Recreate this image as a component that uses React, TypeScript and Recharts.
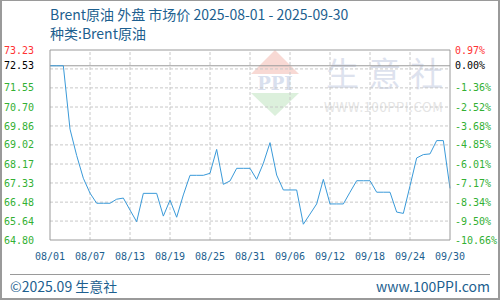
import { LineChart, Line, XAxis, YAxis, ReferenceLine } from "recharts";

// Brent crude, daily market price (USD/bbl), 08/01 .. 09/30
const prices = [
  72.53, 72.53, 72.53, 69.72, 68.55, 67.54, 66.88, 66.43, 66.43, 66.43,
  66.61, 66.66, 66.13, 65.61, 66.87, 66.87, 66.87, 65.86, 66.57, 65.81,
  66.8, 67.67, 67.67, 67.67, 67.76, 68.82, 67.27, 67.42, 67.98, 67.98,
  67.98, 67.49, 68.2, 69.12, 67.68, 67.02, 67.02, 67.02, 65.5, 65.95,
  66.4, 67.49, 66.4, 66.4, 66.4, 66.92, 67.43, 67.43, 67.43, 66.92,
  66.92, 66.92, 66.04, 65.98, 67.2, 68.44, 68.59, 68.62, 69.21, 69.21,
  67.09,
];

const tickDays = [0, 6, 12, 18, 24, 30, 36, 42, 48, 54, 60];
const dateLabels = ["08/01", "08/07", "08/13", "08/19", "08/25", "08/31", "09/06", "09/12", "09/18", "09/24", "09/30"];

const priceTicks = [73.23, 72.53, 71.55, 70.7, 69.86, 69.02, 68.17, 67.33, 66.48, 65.64, 64.8];
const pctLabels = ["0.97%", "0.00%", "-1.36%", "-2.52%", "-3.68%", "-4.85%", "-6.01%", "-7.17%", "-8.34%", "-9.50%", "-10.66%"];
const gridPrices = [72.39, 71.55, 70.7, 69.86, 69.02, 68.17, 67.33, 66.48, 65.64];
const gridDays = [6, 12, 18, 24, 30, 36, 42, 48, 54];
const basePrice = 72.53;
const topPrice = 73.23;
const bottomPrice = 64.8;

const data = prices.map((price, day) => ({ day, price }));

const RED = "#ff3333";
const GREEN = "#33b033";
const BLUE = "#1d5f8f";
const FRAME = "#9a9a9a";
const GRID = "#c8c8c8";
const MONO = "'DejaVu Sans Mono', monospace";
const SANS = "'Noto Sans CJK SC', 'Noto Sans', sans-serif";

function tickColor(v: number) {
  if (v === topPrice) return RED;
  if (v === basePrice) return "#000";
  return GREEN;
}

const LeftTick = (props: any) => {
  const { x, y, payload } = props;
  const v = Number(payload.value);
  return (
    <text x={x} y={y} dy="0.355em" textAnchor="end" fill={tickColor(v)} fontFamily={MONO} fontSize={10}>
      {v.toFixed(2)}
    </text>
  );
};

const RightTick = (props: any) => {
  const { x, y, payload } = props;
  const v = Number(payload.value);
  const i = priceTicks.indexOf(v);
  return (
    <text x={x} y={y} dy="0.355em" textAnchor="start" fill={tickColor(v)} fontFamily={MONO} fontSize={10}>
      {pctLabels[i]}
    </text>
  );
};

function Watermark() {
  return (
    <div style={{ position: "absolute", left: 0, top: 0, width: 500, height: 300, pointerEvents: "none" }}>
      <svg width={500} height={300} style={{ position: "absolute", left: 0, top: 0 }}>
        <polygon points="275,50 299,74 251,74" fill="#f8d9d4" />
        <text x={275} y={90} textAnchor="middle" fontFamily="'DejaVu Serif', serif" fontSize={18} fontWeight="bold" fill="#d9e0ee">
          PPI
        </text>
        <polygon points="251,93 299,93 275,116" fill="#dcf0dc" />
        <text x={326} y={86} fontFamily={SANS} fontSize={33} fill="#dde2ee" letterSpacing={9}>
          生意社
        </text>
        <text x={324} y={112} fontFamily={SANS} fontSize={13} fill="#e4e4e4" letterSpacing={0.6}>
          WWW.100PPI.COM
        </text>
      </svg>
    </div>
  );
}

export default function App() {
  return (
    <div style={{ position: "absolute", left: 0, top: 0, width: 500, height: 300, background: "#fff", overflow: "hidden" }}>
      <Watermark />
      <div style={{ position: "absolute", left: 50, top: 5, fontFamily: SANS, fontSize: 14, color: BLUE, lineHeight: "18px", whiteSpace: "nowrap" }}>
        Brent原油 外盘 市场价 2025-08-01 - 2025-09-30
      </div>
      <div style={{ position: "absolute", left: 50, top: 24, fontFamily: SANS, fontSize: 14, color: BLUE, lineHeight: "18px", whiteSpace: "nowrap" }}>
        种类:Brent原油
      </div>
      <div style={{ position: "absolute", left: 0, top: 0 }}>
        <LineChart width={500} height={300} data={data} margin={{ top: 50, right: 0, bottom: 25, left: 0 }}>
          <XAxis
            dataKey="day"
            type="number"
            domain={[0, 60]}
            ticks={tickDays}
            tickFormatter={(d: number) => dateLabels[tickDays.indexOf(d)]}
            tickLine={false}
            tickSize={0}
            tickMargin={13}
            height={35}
            stroke={FRAME}
            tick={{ fill: BLUE, fontSize: 10, fontFamily: MONO }}
          />
          <YAxis
            yAxisId="left"
            domain={[bottomPrice, topPrice]}
            ticks={priceTicks}
            interval={0}
            tickLine={false}
            tickSize={0}
            tickMargin={16}
            width={50}
            stroke={FRAME}
            tick={(p: any) => <LeftTick {...p} />}
          />
          <YAxis
            yAxisId="right"
            orientation="right"
            domain={[bottomPrice, topPrice]}
            ticks={priceTicks}
            interval={0}
            tickLine={false}
            tickSize={0}
            tickMargin={5}
            width={50}
            stroke={FRAME}
            tick={(p: any) => <RightTick {...p} />}
          />
          {gridPrices.map((v) => (
            <ReferenceLine key={"h" + v} yAxisId="left" y={v} stroke={GRID} strokeDasharray="3 2" />
          ))}
          {gridDays.map((d) => (
            <ReferenceLine key={"v" + d} yAxisId="left" x={d} stroke={GRID} strokeDasharray="3 2" />
          ))}
          <ReferenceLine yAxisId="left" y={basePrice} stroke={FRAME} />
          <ReferenceLine yAxisId="left" y={topPrice} stroke={FRAME} />
          {/* invisible copy so the percent axis has a series bound to it */}
          <Line
            yAxisId="right"
            type="linear"
            dataKey="price"
            stroke="none"
            dot={false}
            activeDot={false}
            legendType="none"
            isAnimationActive={false}
          />
          <Line
            yAxisId="left"
            type="linear"
            dataKey="price"
            stroke="#3a9ad9"
            strokeWidth={1}
            dot={false}
            isAnimationActive={false}
          />
        </LineChart>
      </div>
      <div style={{ position: "absolute", left: 10, top: 274, width: 480, height: 1, background: FRAME }} />
      <div style={{ position: "absolute", left: 10, top: 277, fontFamily: SANS, fontSize: 14, color: BLUE, lineHeight: "18px", whiteSpace: "nowrap" }}>
        ©2025.09 生意社
      </div>
      <div style={{ position: "absolute", right: 10, top: 277, fontFamily: SANS, fontSize: 14, color: BLUE, lineHeight: "18px", whiteSpace: "nowrap" }}>
        www.100PPI.com
      </div>
      <div style={{ position: "absolute", left: 0, top: 0, width: 500, height: 300, boxSizing: "border-box", borderStyle: "solid", borderColor: FRAME, borderWidth: "1px 2px 2px 2px", pointerEvents: "none" }} />
    </div>
  );
}
